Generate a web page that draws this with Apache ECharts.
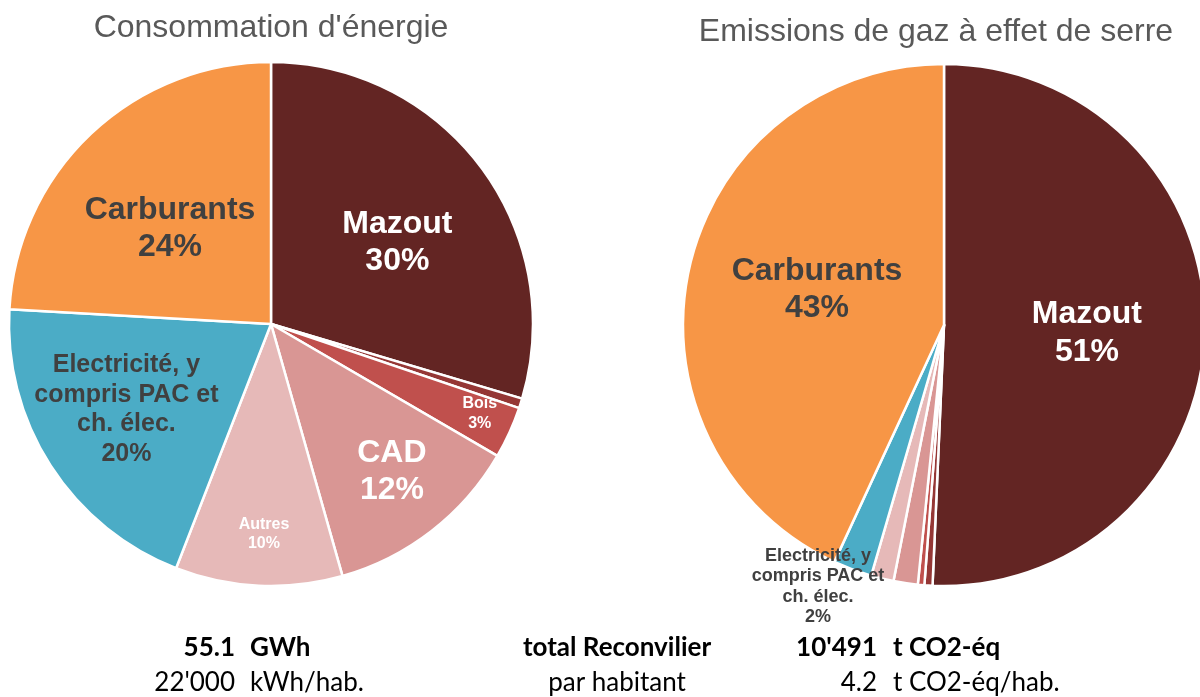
<!DOCTYPE html>
<html>
<head>
<meta charset="utf-8">
<script src="https://cdn.jsdelivr.net/npm/echarts@6/dist/echarts.min.js"></script>
<style>
  html, body { margin: 0; padding: 0; background: #ffffff; }
  #main { width: 1200px; height: 697px; }
</style>
</head>
<body>
<div id="main"></div>
<script>
  // données
  var categories = ['Mazout', 'Gaz', 'Bois', 'CAD', 'Autres', 'Electricité, y\ncompris PAC et\nch. élec.', 'Carburants'];
  var energyShare = [29.6, 0.6, 3.2, 12.2, 10.3, 20.0, 24.1];
  var ghgShare = [50.7, 0.5, 0.4, 1.5, 1.4, 2.4, 43.1];
  var titles = ["Consommation d'énergie", 'Emissions de gaz à effet de serre'];
  var rowLabels = ['total Reconvilier', 'par habitant'];
  var energyValues = ['55.1', "22'000"];
  var energyUnits = ['GWh', 'kWh/hab.'];
  var ghgValues = ["10'491", '4.2'];
  var ghgUnits = ['t CO2-éq', 't CO2-éq/hab.'];

  var colors = ['#632523', '#953735', '#c0504d', '#d99694', '#e6b9b8', '#4bacc6', '#f79646'];
  var dark = '#404040';

  // étiquettes : [taille, couleur, interligne, rayon relatif, angle en degrés] (null = pas d'étiquette)
  var energyLabels = [
    [32, '#fff', 37, 0.563, 57.2], null, [16, '#fff', 20, 0.855, 113.1], [32, '#fff', 37, 0.716, 140.6],
    [16, '#fff', 19, 0.792, 181.9], [25, dark, 29.5, 0.63, 239.4], [32, dark, 37, 0.518, 313.2]
  ];
  var ghgLabels = [
    [32, '#fff', 38, 0.537, 93.3], null, null, null, null, [18, dark, 20.5, 1.10, 205.8], [32, dark, 37, 0.494, 285.8]
  ];

  function buildData(values, labels) {
    return values.map(function (v, i) {
      var l = labels[i];
      return {
        name: categories[i],
        value: v,
        itemStyle: { color: colors[i] },
        label: l ? { show: true, fontSize: l[0], color: l[1], lineHeight: l[2] } : { show: false }
      };
    });
  }

  // déplace l'étiquette depuis sa place par défaut (r/2, angle médian) vers la place voulue
  function makeLayout(values, labels, radius) {
    var total = values.reduce(function (a, b) { return a + b; }, 0);
    var mids = [];
    var cum = 0;
    values.forEach(function (v) {
      mids.push((cum + v / 2) / total * Math.PI * 2);
      cum += v;
    });
    return function (params) {
      var l = labels[params.dataIndex];
      if (!l) return {};
      var a = mids[params.dataIndex];
      var a2 = l[4] * Math.PI / 180;
      return {
        dx: l[3] * radius * Math.sin(a2) - 0.5 * radius * Math.sin(a),
        dy: -(l[3] * radius * Math.cos(a2) - 0.5 * radius * Math.cos(a))
      };
    };
  }

  function pieSeries(values, labels, center, radius) {
    return {
      type: 'pie',
      center: center,
      radius: radius,
      startAngle: 90,
      clockwise: true,
      avoidLabelOverlap: false,
      animation: false,
      itemStyle: { borderColor: '#ffffff', borderWidth: 2.5 },
      label: {
        show: true,
        position: 'inside',
        fontFamily: 'Liberation Sans, Arial, sans-serif',
        fontWeight: 'bold',
        align: 'center',
        formatter: function (p) { return p.name + '\n' + Math.round(p.percent) + '%'; }
      },
      labelLine: { show: false },
      emphasis: { disabled: true },
      labelLayout: makeLayout(values, labels, radius),
      data: buildData(values, labels)
    };
  }

  var textFont = 'Lato, Open Sans, sans-serif';
  function txt(text, x, y, align, bold, size) {
    return {
      type: 'text', x: x, y: y, silent: true,
      style: {
        text: text, textAlign: align, textVerticalAlign: 'middle',
        font: (bold ? 'bold ' : '') + size + 'px ' + textFont, fill: '#000000'
      }
    };
  }

  var titleFont = '32px Liberation Sans, Arial, sans-serif';
  var graphics = [
    {
      type: 'text', x: 271, y: 28, silent: true,
      style: { text: titles[0], textAlign: 'center', textVerticalAlign: 'middle', font: titleFont, fill: '#595959' }
    },
    {
      type: 'text', x: 936, y: 32, silent: true,
      style: { text: titles[1], textAlign: 'center', textVerticalAlign: 'middle', font: titleFont, fill: '#595959' }
    }
  ];
  var rowY = [648, 683];
  for (var r = 0; r < 2; r++) {
    var b = r === 0;
    graphics.push(txt(energyValues[r], 235, rowY[r], 'right', b, 26));
    graphics.push(txt(energyUnits[r], 250, rowY[r], 'left', b, 26));
    graphics.push(txt(rowLabels[r], 617, rowY[r], 'center', b, 26));
    graphics.push(txt(ghgValues[r], 877, rowY[r], 'right', b, 26));
    graphics.push(txt(ghgUnits[r], 893, rowY[r], 'left', b, 26));
  }

  var myChart = echarts.init(document.getElementById('main'));
  myChart.setOption({
    backgroundColor: '#ffffff',
    animation: false,
    graphic: graphics,
    series: [
      pieSeries(energyShare, energyLabels, [271, 324], 262),
      pieSeries(ghgShare, ghgLabels, [944, 325], 261)
    ]
  });
</script>
</body>
</html>
